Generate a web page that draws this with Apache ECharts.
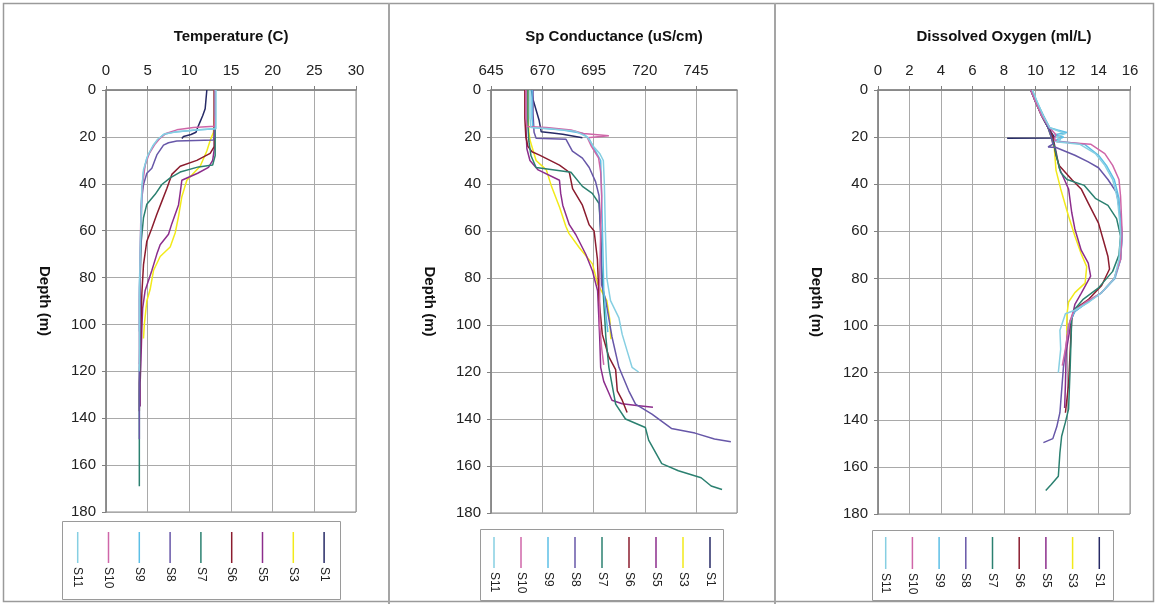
<!DOCTYPE html>
<html>
<head>
<meta charset="utf-8">
<script src="https://cdn.jsdelivr.net/npm/echarts@6/dist/echarts.min.js"></script>
<style>
html,body{margin:0;padding:0;background:#fff;}
#chart{width:1157px;height:604px;}
</style>
</head>
<body>
<div id="chart"></div>
<script>
// ---------- DATA (value, depth m) ----------
const seriesNames = ['S1','S3','S5','S6','S7','S8','S9','S10','S11'];
const panelTitles = ['Temperature (C)','Sp Conductance (uS/cm)','Dissolved Oxygen (ml/L)'];
const depthTicks = [0,20,40,60,80,100,120,140,160,180];
const tempTicks = [0,5,10,15,20,25,30];
const condTicks = [645,670,695,720,745];
const doTicks = [0,2,4,6,8,10,12,14,16];

// Temperature
const tempS1 = [[12.1,0],[12.0,4],[11.9,8],[11.6,11],[11.3,13.5],[11.0,16],[10.8,18],[10.2,19],[9.3,19.8],[9.1,20.7]];
const tempS3 = [[13.0,0],[13.0,10],[12.9,18],[12.5,21.5],[12.1,26],[11.3,32.5],[9.7,38.5],[9.1,45.5],[8.7,54],[8.3,61],[7.7,67],[6.5,71],[5.7,77],[5.3,85],[4.9,90],[4.6,100],[4.5,106]];
const tempS5 = [[13.0,0],[13.0,15],[13.0,25],[12.8,30],[12.3,33],[11.0,35.5],[9.1,38.5],[8.9,44],[8.7,49],[7.9,57],[7.5,61.5],[6.5,66],[6.1,70],[5.5,77],[4.7,85.5],[4.4,93],[4.3,102],[4.2,115],[4.1,125],[4.1,135]];
const tempS6 = [[13.0,0],[13.0,15],[13.0,24],[12.5,27],[10.9,30],[8.9,32.5],[7.9,36],[7.3,42],[6.7,47.5],[6.1,53],[5.5,59],[4.9,64.5],[4.5,74.5],[4.3,87],[4.2,100],[4.1,115],[4.0,125],[4.0,137]];
const tempS7 = [[13.1,0],[13.1,15],[13.1,28],[12.8,32],[11.1,32.8],[8.9,35],[7.7,37.5],[6.7,40.3],[5.9,44.5],[4.9,48.7],[4.5,54.5],[4.2,65.5],[4.1,80],[4.1,100],[4.0,130],[4.0,150],[4.0,169]];
const tempS8 = [[13.1,0],[13.1,10],[13.0,20],[12.9,21.3],[8.5,21.8],[7.5,22.5],[6.9,23.5],[6.1,27.7],[5.5,33.4],[4.9,35.5],[4.5,40.3],[4.3,46],[4.2,60],[4.1,80],[4.1,100],[4.0,120],[4.0,149]];
const tempS9 = [[13.1,0],[13.1,10],[13.1,16.5],[10.5,17.2],[8.0,18],[6.9,19],[6.3,21],[5.7,23.5],[4.9,29],[4.5,35],[4.3,42],[4.2,55],[4.1,70],[4.0,85],[4.0,103]];
const tempS10 = [[13.1,0],[13.1,10],[13.0,15.5],[10.5,16],[8.5,17],[7.2,18.5],[6.5,20.5],[5.9,23],[5.2,27],[4.7,32],[4.4,40],[4.2,50],[4.1,70],[4.0,90],[4.0,117]];
const tempS11 = [[13.2,0],[13.2,10],[13.2,16.5],[11.0,17],[8.5,17.8],[7.0,18.8],[6.2,21],[5.6,24],[5.0,28],[4.5,34],[4.3,42],[4.2,55],[4.1,70],[4.0,90],[4.0,120]];

// Specific conductance
const condS1 = [[664.7,0],[665.5,4],[667,8.5],[668.5,13],[669.5,17.8],[675,18.3],[680,18.8],[689.6,20.3]];
const condS3 = [[663,0],[663,10],[663.5,18],[664,21.3],[667,30],[672,34],[674.5,41],[678.5,50],[681.5,58],[683,61],[688,67],[691.3,70.5],[694.5,74],[697,82.5],[701.5,89.6],[703,98],[703.3,104],[703.5,106]];
const condS5 = [[662,0],[662,15],[662.5,25],[664,30],[668,34],[678.4,38.4],[679,44],[680,49],[683.2,57.3],[686.4,61.6],[691.3,70],[694.5,77],[697,85.5],[697.5,95],[698,105],[698.5,118],[700,124],[702,128],[704,132],[709,133.5],[716,134.3],[724,135]];
const condS6 = [[661.5,0],[661.5,12],[662,20],[663,24],[665,26.3],[668.7,27.7],[678.4,32],[683.2,35],[684.8,42],[689.6,49],[692.9,57.4],[695.3,60],[696.9,72],[697.7,89],[699.3,104],[702.5,113.6],[705.8,119],[706.6,128],[709,132],[711.4,137.2]];
const condS7 = [[663,0],[663,15],[663.5,22],[664.5,28],[667,33],[676,34],[684,35],[689.6,41],[694.4,44],[697.7,48.3],[698.5,60],[699,75],[700,90],[701,105],[702.5,118],[705.8,133.7],[710.6,140],[720.3,143.6],[721.9,149],[728.3,159],[736.4,162],[747.5,165],[752.4,168.5],[757.7,170]];
const condS8 = [[665.5,0],[665.5,10],[666,18],[667,20.5],[681.6,21],[684.7,26],[689.6,29],[692.9,33],[696,39],[697.7,45],[698.5,62],[699,83],[701,89.6],[704,105],[707.4,118],[712.2,128],[715.5,133.7],[723.5,137.9],[733,144],[744.5,146],[754,148.5],[762,149.7]];
const condS9 = [[665,0],[665,12],[665.5,16],[680,17],[690,18.5],[693,21],[696,26],[698.5,30],[699,45],[699.5,65],[700,85],[701,95],[702,103]];
const condS10 = [[662,0],[662,12],[662.5,15.5],[672,16],[684,17],[690,18.5],[702.5,19.5],[692,20.3],[694,24],[697.5,29],[698.5,35],[699,45],[698.5,60],[698,80],[698,100],[699,110],[700,117]];
const condS11 = [[664,0],[664,12],[664.5,16],[674,16.5],[686,17.5],[692,20],[695,24],[698,27],[699.8,30],[700.3,40],[700.8,60],[701.5,80],[703.3,89.6],[707.4,97],[709,104],[711.4,111],[713.8,118],[717,120]];

// Dissolved oxygen
const doS1 = [[9.7,0],[9.9,3],[10.2,7],[10.5,11],[10.8,15],[11.0,18],[11.2,20],[11.0,20.4],[8.2,20.5]];
const doS3 = [[9.8,0],[10.0,5],[10.4,11],[10.8,16],[11.0,20],[11.2,25],[11.3,34],[11.6,42],[12.1,53.6],[12.5,62],[12.9,69.5],[13.25,75],[13.15,82],[12.5,86],[12.1,90],[12.0,95],[11.98,100],[12.0,106]];
const doS5 = [[9.7,0],[10.0,5],[10.4,11],[10.8,16],[11.1,20],[11.3,26],[11.5,33],[12.1,42],[12.3,52],[12.5,59],[12.9,68],[13.35,73.5],[13.5,79],[12.9,86.3],[12.5,91],[12.3,97],[11.95,111],[11.9,125],[11.85,135]];
const doS6 = [[9.7,0],[10.0,5],[10.4,11],[10.8,16],[11.1,20],[11.2,24],[11.3,27.7],[11.5,32],[12.3,38],[12.9,42],[13.35,48],[14.0,56.5],[14.3,63.6],[14.6,70.7],[14.7,76],[14.2,83],[13.35,89],[12.5,93],[12.3,97],[12.2,111],[12.1,125],[11.9,137]];
const doS7 = [[9.7,0],[10.0,5],[10.4,11],[10.8,16],[11.0,20],[11.2,24],[11.4,30],[11.6,35],[12.0,38],[13.1,40.5],[13.8,46],[14.6,49],[15.15,54.6],[15.4,62],[15.3,70],[14.9,77],[14.0,84],[13.0,89],[12.5,93],[12.3,97],[12.2,118],[12.1,135.5],[11.9,141],[11.66,147],[11.55,154],[11.45,164],[11.0,167.5],[10.65,170]];
const doS8 = [[9.7,0],[10.0,5],[10.4,11],[10.8,16],[11.0,20],[11.1,23],[10.8,24.2],[11.3,24.4],[12.5,27.7],[13.35,30.5],[14.0,33],[14.6,38],[15.15,43.6],[15.4,53.6],[15.5,62],[15.4,72],[15.0,80],[14.2,86],[13.3,90],[12.5,94],[12.2,98],[12.05,103],[11.77,118],[11.55,137],[11.35,143],[11.1,148],[10.5,149.7]];
const doS9 = [[9.8,0],[10.1,5],[10.5,11],[10.9,16],[11.4,17],[12.0,18],[11.2,19],[11.8,20],[11.2,21.5],[13.1,23],[14.0,27.7],[14.5,32],[15.0,38],[15.3,46],[15.4,56.5],[15.5,62],[15.4,72],[15.05,80],[14.2,86],[13.35,90],[12.5,94],[12.2,98],[12.0,103]];
const doS10 = [[9.7,0],[10.0,5],[10.4,11],[10.9,16],[11.3,19],[11.2,21],[11.4,22],[13.5,23],[14.4,27],[14.9,32],[15.3,38],[15.4,45],[15.5,60],[15.4,72],[15.0,80],[14.2,86],[13.2,90],[12.4,94],[12.1,100],[11.9,110],[11.7,117]];
const doS11 = [[9.8,0],[10.1,5],[10.5,11],[10.9,16],[11.5,17.5],[11.9,18.5],[11.3,20],[11.6,21],[11.3,22],[12.8,23],[13.8,27],[14.4,32],[14.9,38],[15.2,46],[15.35,56],[15.4,62],[15.3,72],[15.0,80],[14.2,86],[13.4,90],[12.5,93.5],[11.9,95],[11.55,102],[11.6,110],[11.45,120]];

// ---------- STYLE ----------
const seriesColors = ['#262a66','#f2ea1a','#8c2d8c','#8b1c2e','#2b8070','#6757a8','#5cbfe6','#cf66a8','#86cfe2'];
const FONT = 'Liberation Sans, Arial, sans-serif';

const panelData = [
  [tempS1,tempS3,tempS5,tempS6,tempS7,tempS8,tempS9,tempS10,tempS11],
  [condS1,condS3,condS5,condS6,condS7,condS8,condS9,condS10,condS11],
  [doS1,doS3,doS5,doS6,doS7,doS8,doS9,doS10,doS11]
];
const panelTicks = [tempTicks, condTicks, doTicks];
const grids = [
  {left:106, top:90, width:250, height:422},
  {left:491, top:90, width:246, height:423},
  {left:878, top:90, width:252, height:424}
];
const xRanges = [[0,30,5],[645,765,25],[0,16,2]];
const legendBoxes = [
  {x:62, y:521, w:278, h:78, first:77.7, step:30.8, y1:532, y2:563},
  {x:480, y:529, w:243, h:71, first:494, step:27, y1:537, y2:568},
  {x:872, y:530, w:241, h:70, first:885.7, step:26.7, y1:537, y2:569}
];

const chart = echarts.init(document.getElementById('chart'), null, {renderer:'canvas'});

const gridOpt = [], xAxes = [], yAxes = [], series = [], graphics = [];

grids.forEach((g, i) => {
  gridOpt.push(Object.assign({show:true, borderColor:'#8c8c8c', borderWidth:1, backgroundColor:'#fff'}, g));
  const r = xRanges[i];
  const ticks = panelTicks[i];
  xAxes.push({
    type:'value', gridIndex:i, position:'top', min:r[0], max:r[1], interval:r[2],
    name: panelTitles[i], nameLocation:'middle', nameGap:46,
    nameTextStyle:{fontFamily:FONT, fontWeight:'bold', fontSize:15, color:'#111'},
    axisLine:{show:true, lineStyle:{color:'#7f7f7f', width:1.5}},
    axisTick:{show:true, length:4, lineStyle:{color:'#7f7f7f'}},
    axisLabel:{fontFamily:FONT, fontSize:15, color:'#222', margin:12, showMaxLabel: ticks[ticks.length-1] === r[1],
      formatter: v => (ticks.indexOf(v) >= 0 ? String(v) : '')},
    splitLine:{show:true, lineStyle:{color:'#a9a9a9', width:1}}
  });
  yAxes.push({
    type:'value', gridIndex:i, inverse:true, min:0, max:180, interval:20,
    name:'Depth (m)', nameLocation:'middle', nameGap:54, nameRotate:-90,
    nameTextStyle:{fontFamily:FONT, fontWeight:'bold', fontSize:15, color:'#111'},
    axisLine:{show:true, lineStyle:{color:'#7f7f7f', width:1.5}},
    axisTick:{show:true, length:4, lineStyle:{color:'#7f7f7f'}},
    axisLabel:{fontFamily:FONT, fontSize:15, color:'#222', margin:10,
      formatter: v => (depthTicks.indexOf(v) >= 0 ? String(v) : '')},
    splitLine:{show:true, lineStyle:{color:'#a9a9a9', width:1}}
  });
  panelData[i].forEach((d, k) => {
    series.push({
      type:'line', name: seriesNames[k], xAxisIndex:i, yAxisIndex:i, data:d,
      showSymbol:false, symbol:'none', smooth:false,
      lineStyle:{color:seriesColors[k], width:1.5},
      itemStyle:{color:seriesColors[k]}, z:2+k
    });
  });
  // legend box (built from series names)
  const lb = legendBoxes[i];
  graphics.push({type:'rect', shape:{x:lb.x+0.5, y:lb.y+0.5, width:lb.w, height:lb.h},
    style:{fill:'#fff', stroke:'#9a9a9a', lineWidth:1}, z:10});
  const order = seriesNames.slice().reverse();
  order.forEach((nm, j) => {
    const k = seriesNames.indexOf(nm);
    const x = lb.first + j*lb.step;
    graphics.push({type:'line', shape:{x1:x, y1:lb.y1, x2:x, y2:lb.y2},
      style:{stroke:seriesColors[k], lineWidth:1.5}, z:11});
    graphics.push({type:'text', x:x, y:lb.y2+4, rotation:-Math.PI/2,
      style:{text:nm, fontFamily:FONT, fontSize:12, fill:'#222', align:'left', verticalAlign:'middle'}, z:11});
  });
});

// frame and dividers
graphics.push({type:'rect', shape:{x:3.5, y:3.5, width:1150, height:598}, style:{fill:null, stroke:'#9a9a9a', lineWidth:1.5}, z:0});
graphics.push({type:'line', shape:{x1:389, y1:3, x2:389, y2:604}, style:{stroke:'#a5a5a5', lineWidth:2}, z:0});
graphics.push({type:'line', shape:{x1:775, y1:3, x2:775, y2:604}, style:{stroke:'#a5a5a5', lineWidth:2}, z:0});

chart.setOption({
  animation:false,
  backgroundColor:'#fff',
  grid: gridOpt,
  xAxis: xAxes,
  yAxis: yAxes,
  series: series,
  graphic: graphics
});
</script>
</body>
</html>
